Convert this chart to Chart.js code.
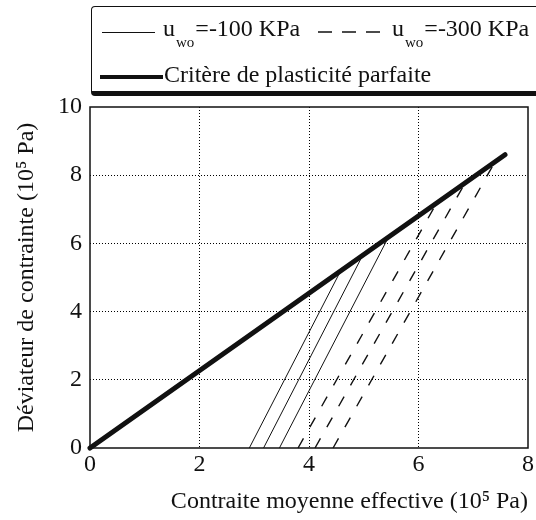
<!DOCTYPE html>
<html>
<head>
<meta charset="utf-8">
<script src="https://cdn.jsdelivr.net/npm/chart.js@4.4.0/dist/chart.umd.min.js"></script>
<style>
  body { margin: 0; background: #fff; }
  #wrap { position: relative; width: 536px; height: 520px; overflow: hidden; font-family: "Liberation Serif", serif; color: #111; }
  #legend { position: absolute; left: 91px; top: 6px; width: 470px; height: 84px; border: 1.5px solid #111; border-bottom: 5px solid #111; border-radius: 4px; box-sizing: content-box; }
  .txt { position: absolute; font-size: 24px; line-height: 1; white-space: nowrap; }
  .txt sub { font-size: 15px; vertical-align: -11px; margin: 0 1px 0 1px; }
  .smp { position: absolute; }
</style>
</head>
<body>
<div id="wrap">
  <canvas id="chart"></canvas>
  <div id="legend">
    <div class="smp" style="left:10px; top:25px; width:53px; height:1px; background:#111;"></div>
    <span class="txt" style="left:71px; top:9px;">u<sub>wo</sub>=-100 KPa</span>
    <svg class="smp" style="left:225px; top:21px;" width="66" height="8"><line x1="1" y1="4" x2="65" y2="4" stroke="#111" stroke-width="1.3" stroke-dasharray="14 10"/></svg>
    <span class="txt" style="left:300px; top:9px;">u<sub>wo</sub>=-300 KPa</span>
    <div class="smp" style="left:8px; top:68px; width:63px; height:4px; background:#111;"></div>
    <span class="txt" style="left:72px; top:55px;">Critère de plasticité parfaite</span>
  </div>
</div>
<script>
// critère de plasticité parfaite (p', q)
var failP = [0, 7.58];
var failQ = [0, 8.6];
// chemins u_wo = -100 KPa : départ sur q = 0, arrivée sur le critère
var solidStartP = [2.91, 3.17, 3.46];
var solidEndP = [4.58, 4.98, 5.45];
var solidEndQ = [5.2, 5.65, 6.18];
// chemins u_wo = -300 KPa
var dashStartP = [3.80, 4.11, 4.44];
var dashEndP = [6.33, 6.85, 7.40];
var dashEndQ = [7.18, 7.77, 8.40];

var xMax = 8, yMax = 10;

var datasets = [];
datasets.push({
    label: 'Critère de plasticité parfaite',
    data: failP.map(function (p, i) { return {x: p, y: failQ[i]}; }),
    borderColor: '#111',
    borderWidth: 5,
    borderCapStyle: 'round'
});
solidStartP.forEach(function (p, i) {
    datasets.push({
        label: 'u_wo=-100 KPa',
        data: [{x: p, y: 0}, {x: solidEndP[i], y: solidEndQ[i]}],
        borderColor: '#111',
        borderWidth: 1
    });
});
dashStartP.forEach(function (p, i) {
    datasets.push({
        label: 'u_wo=-300 KPa',
        data: [{x: p, y: 0}, {x: dashEndP[i], y: dashEndQ[i]}],
        borderColor: '#111',
        borderWidth: 1.4,
        borderDash: [11, 13]
    });
});
datasets.forEach(function (d) {
    d.showLine = true;
    d.pointRadius = 0;
    d.fill = false;
    d.clip = false;
});

// cadre du graphique
var frame = {
    id: 'frame',
    beforeDatasetsDraw: function (chart) {
        var a = chart.chartArea, c = chart.ctx;
        c.save();
        c.strokeStyle = '#111';
        c.lineWidth = 1.5;
        c.strokeRect(a.left, a.top, a.right - a.left, a.bottom - a.top);
        c.restore();
    }
};

function gridColor(max) {
    return function (ctx) {
        var v = ctx.tick ? ctx.tick.value : 0;
        return (v > 0 && v < max) ? '#000' : 'rgba(0,0,0,0)';
    };
}

var font = {family: '"Liberation Serif", serif', size: 24};
Chart.defaults.color = '#111';

var canvas = document.getElementById('chart');
canvas.width = 536;
canvas.height = 520;
new Chart(canvas, {
    type: 'scatter',
    data: {datasets: datasets},
    plugins: [frame],
    options: {
        responsive: false,
        animation: false,
        layout: {padding: {top: 107, right: 8, left: 0, bottom: 0}},
        plugins: {legend: {display: false}, tooltip: {enabled: false}},
        scales: {
            x: {
                type: 'linear', min: 0, max: xMax,
                ticks: {stepSize: 2, font: font, padding: 2},
                grid: {color: gridColor(xMax), drawTicks: false, lineWidth: 1},
                border: {display: false, dash: [1, 2]},
                title: {display: true, text: 'Contraite moyenne effective (10⁵ Pa)', font: font, align: 'end', padding: {top: 4, bottom: 4}},
                afterFit: function (s) { s.height = 72; }
            },
            y: {
                type: 'linear', min: 0, max: yMax,
                ticks: {stepSize: 2, font: font, padding: 8},
                grid: {color: gridColor(yMax), drawTicks: false, lineWidth: 1},
                border: {display: false, dash: [1, 2]},
                title: {display: true, text: 'Déviateur de contrainte (10⁵ Pa)', font: font, padding: {top: 12, bottom: 0}},
                afterFit: function (s) { s.width = 90; }
            }
        }
    }
});
</script>
</body>
</html>
